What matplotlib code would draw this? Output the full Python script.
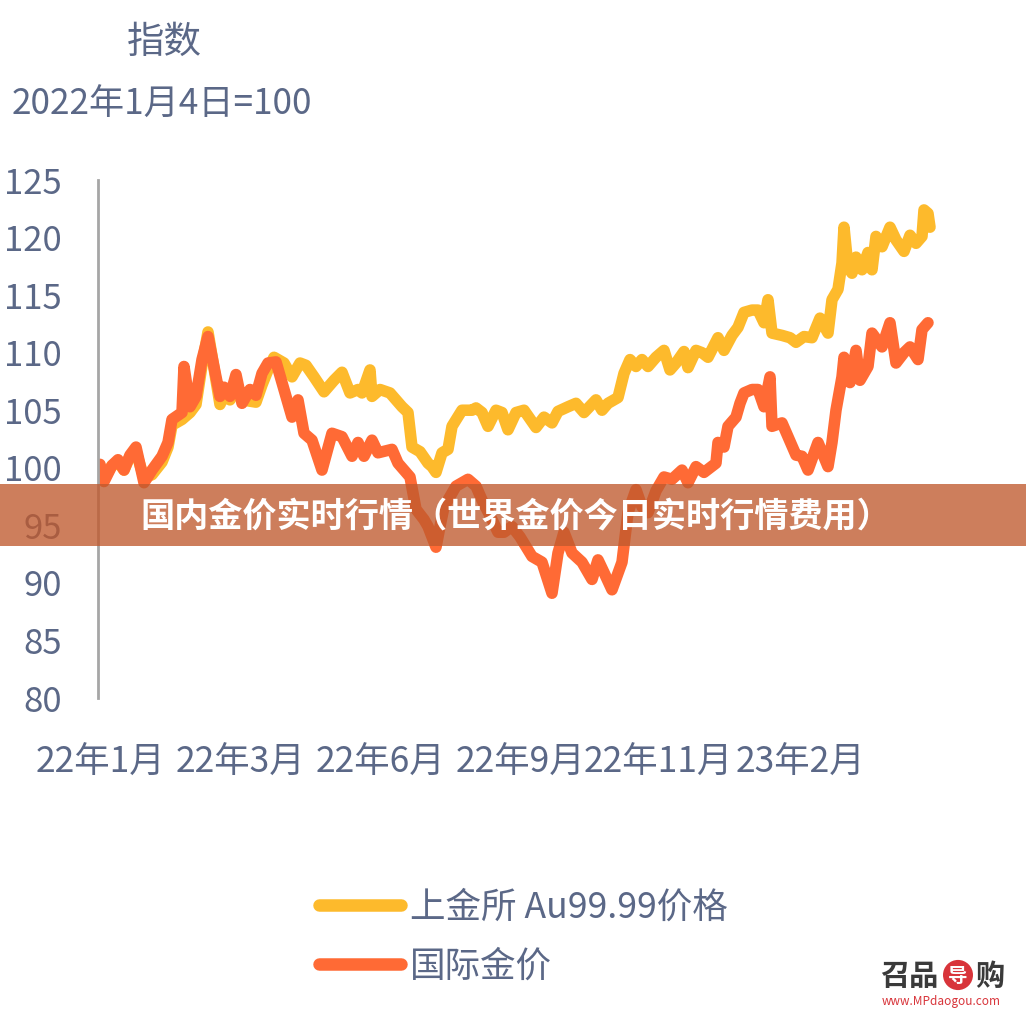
import matplotlib
matplotlib.use('Agg')
import matplotlib.pyplot as plt
from matplotlib.patches import Rectangle, Circle

plt.rcParams['font.family'] = ['Noto Sans CJK SC', 'DejaVu Sans']

# trading-day index (from 2022-01-04) and index values
sge_day = [0, 2, 6, 9, 12, 15, 18, 22, 26, 31, 34, 36, 41, 45, 48, 51, 54, 58, 60, 62,
           65, 68, 71, 78, 81, 84, 87, 92, 96, 100, 103, 107, 112, 117, 121, 125, 129, 131,
           135, 136, 140, 145, 151, 154, 156, 160, 164, 166, 168, 171, 174, 176, 181, 186,
           188, 191, 194, 198, 201, 204, 208, 212, 218, 222, 226, 229, 234, 238, 242, 248,
           251, 254, 259, 262, 265, 268, 271, 274, 278, 282, 285, 288, 292, 294, 298, 301,
           304, 309, 312, 316, 319, 322, 326, 329, 332, 334, 336, 341, 345, 348, 352, 356,
           360, 364, 366, 369, 371, 372, 374, 376, 378, 381, 384, 386, 388, 391, 395, 398,
           402, 405, 408, 411, 412, 414, 415]
sge_val = [100.0, 99.1, 100.2, 100.5, 99.8, 101.0, 101.4, 99.1, 99.4, 100.5, 101.8, 103.7,
           104.2, 104.8, 105.5, 108.9, 111.8, 107.6, 105.5, 106.3, 105.9, 106.8, 105.9, 105.7,
           107.2, 108.5, 109.6, 109.1, 107.9, 109.1, 108.9, 107.9, 106.6, 107.6, 108.3, 106.5,
           106.8, 106.5, 108.5, 106.2, 106.8, 106.5, 105.3, 104.8, 101.8, 101.4, 100.4, 100.1,
           99.6, 101.3, 101.6, 103.6, 105.0, 105.0, 105.2, 104.8, 103.6, 105.0, 104.8, 103.3,
           104.8, 105.0, 103.5, 104.4, 103.9, 104.9, 105.3, 105.6, 104.8, 105.9, 105.0, 105.6,
           106.1, 108.2, 109.4, 108.8, 109.4, 108.8, 109.6, 110.2, 108.5, 109.1, 110.1, 108.7,
           110.2, 110.0, 109.6, 111.3, 110.2, 111.5, 112.2, 113.5, 113.7, 113.7, 112.6, 114.6,
           111.7, 111.5, 111.3, 110.9, 111.4, 111.3, 113.0, 111.7, 114.6, 115.5, 117.8, 120.9,
           117.4, 116.9, 118.3, 117.2, 118.7, 117.2, 120.1, 119.2, 120.9, 119.8, 118.8, 120.2,
           119.5, 120.1, 122.4, 122.1, 120.9]

intl_day = [0, 2, 6, 9, 12, 15, 18, 22, 26, 31, 34, 36, 41, 42, 45, 48, 51, 54, 58, 60,
            62, 65, 68, 71, 75, 78, 81, 84, 88, 92, 96, 99, 102, 106, 111, 116, 121, 126,
            129, 132, 136, 139, 146, 149, 152, 155, 158, 162, 164, 168, 170, 172, 178, 184,
            188, 191, 196, 199, 202, 206, 210, 216, 221, 226, 229, 232, 236, 241, 246, 249,
            252, 256, 261, 264, 268, 271, 274, 278, 282, 286, 291, 294, 298, 302, 308, 309,
            312, 314, 318, 320, 322, 326, 329, 332, 335, 336, 341, 344, 348, 351, 354, 359,
            364, 366, 368, 371, 372, 375, 378, 380, 384, 386, 391, 395, 398, 402, 405, 409,
            411, 414]
intl_val = [100.3, 98.8, 100.2, 100.7, 99.8, 101.1, 101.8, 98.7, 99.8, 101.0, 102.2, 104.2,
            104.8, 108.8, 105.3, 106.2, 109.4, 111.4, 107.9, 106.2, 107.0, 106.2, 108.1, 105.6,
            106.8, 106.3, 108.2, 109.1, 109.2, 106.8, 104.4, 105.9, 103.0, 102.4, 99.8, 103.0,
            102.7, 101.0, 102.2, 101.0, 102.4, 101.3, 101.6, 100.4, 99.8, 99.2, 96.4, 95.5,
            94.9, 93.1, 94.9, 96.6, 98.4, 99.0, 98.4, 97.2, 95.5, 94.4, 94.4, 94.9, 94.0, 92.3,
            91.8, 89.1, 92.6, 94.4, 92.6, 91.8, 90.3, 92.0, 90.9, 89.4, 91.8, 96.1, 98.1, 96.6,
            96.1, 98.0, 99.2, 99.0, 99.8, 98.7, 100.1, 99.6, 100.4, 102.2, 101.8, 103.6, 104.4,
            105.6, 106.5, 106.8, 106.8, 105.3, 107.9, 103.6, 103.9, 102.7, 101.1, 101.0, 99.8,
            102.2, 100.1, 102.2, 105.0, 107.9, 109.6, 107.4, 110.2, 107.6, 108.8, 111.7, 110.5,
            112.6, 109.1, 110.0, 110.5, 109.4, 112.0, 112.6]

tick_days = [0, 70, 140, 210, 279, 350]
tick_labels = ['22年1月', '22年3月', '22年6月', '22年9月', '22年11月', '23年2月']
y_ticks = [80, 85, 90, 95, 100, 105, 110, 115, 120, 125]

text_color = '#5b6887'
yellow = '#FDBA2C'
orange = '#FF6A35'

fig = plt.figure(figsize=(10.26, 10.31), dpi=100)
ax = fig.add_axes([98 / 1026, 333 / 1031, 842 / 1026, 518 / 1031])

ax.plot(sge_day, sge_val, color=yellow, lw=8.3, solid_capstyle='round',
        solid_joinstyle='round', label='上金所 Au99.99价格')
ax.plot(intl_day, intl_val, color=orange, lw=8.3, solid_capstyle='round',
        solid_joinstyle='round', label='国际金价')

ax.set_xlim(-1, 420)
ax.set_ylim(80, 125)
ax.set_yticks(y_ticks)
ax.set_yticklabels([str(v) for v in y_ticks])
ax.set_xticks(tick_days)
ax.set_xticklabels(tick_labels)
ax.tick_params(axis='y', length=0, pad=26, labelsize=25, labelcolor=text_color)
ax.tick_params(axis='x', length=0, pad=34, labelsize=25.5, labelcolor=text_color)
for s in ['top', 'right', 'bottom']:
    ax.spines[s].set_visible(False)
ax.spines['left'].set_color('#a6a6a6')
ax.spines['left'].set_linewidth(2)
ax.spines['left'].set_bounds(80, 125)

fig.text(164 / 1026, 1 - 42 / 1031, '指数', ha='center', va='center',
         fontsize=27, color=text_color, fontweight='medium')
fig.text(12 / 1026, 1 - 105 / 1031, '2022年1月4日=100', ha='left', va='center',
         fontsize=25.3, color=text_color)

leg = fig.legend(loc='center left', bbox_to_anchor=(319 / 1026, 94 / 1031),
                 frameon=False, fontsize=25.6, handlelength=2.3, handletextpad=0.25,
                 labelspacing=0.65, borderpad=0, borderaxespad=0)
for t in leg.get_texts():
    t.set_color(text_color)
for h in leg.get_lines():
    h.set_linewidth(9)

# banner overlay
fig.patches.append(Rectangle((0, 1 - 546 / 1031), 1, 62 / 1031, transform=fig.transFigure,
                             facecolor='#c05a2e', alpha=0.78, edgecolor='none', zorder=5))
fig.text(516 / 1026, 1 - 516 / 1031, '国内金价实时行情（世界金价今日实时行情费用）', ha='center',
         va='center', fontsize=24.6, fontweight='bold', color='white', zorder=6)

# watermark
fig.text(880 / 1026, 1 - 976 / 1031, '召品', ha='left', va='center', fontsize=21,
         color='#3a3a3a', fontweight='bold')
fig.patches.append(Circle((958 / 1026, 1 - 975 / 1031), 15 / 1026, transform=fig.transFigure,
                          facecolor='#d8343a', edgecolor='none'))
fig.text(958 / 1026, 1 - 976 / 1031, '导', ha='center', va='center', fontsize=14,
         color='white', fontweight='bold')
fig.text(975 / 1026, 1 - 976 / 1031, '购', ha='left', va='center', fontsize=21,
         color='#3a3a3a', fontweight='bold')
fig.text(941 / 1026, 1 - 1001 / 1031, 'www.MPdaogou.com', ha='center', va='center',
         fontsize=8.5, color='#d8343a')

fig.savefig('out.png', dpi=100)
